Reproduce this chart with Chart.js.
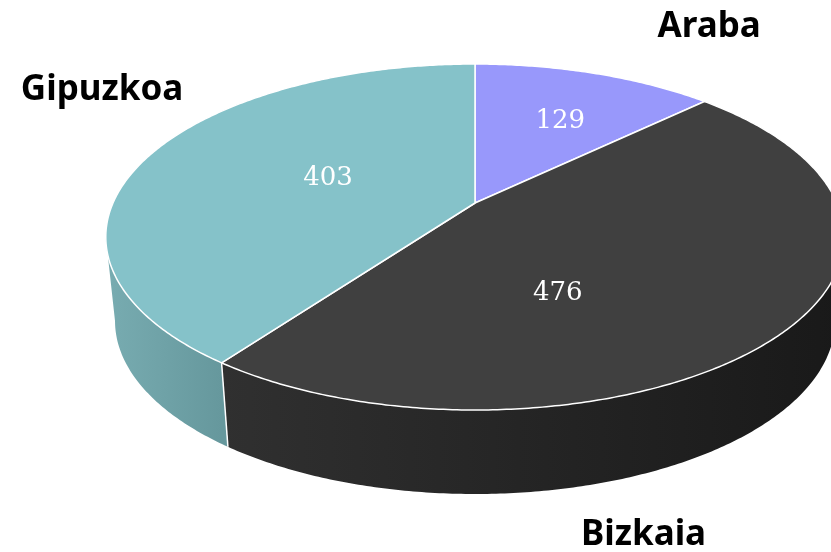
<!DOCTYPE html>
<html>
<head>
<meta charset="utf-8">
<script src="https://cdn.jsdelivr.net/npm/chart.js@4.4.0/dist/chart.umd.min.js"></script>
<style>
  html, body { margin: 0; padding: 0; background: #fff; }
  #wrap { width: 831px; height: 552px; }
</style>
</head>
<body>
<div id="wrap"><canvas id="pie" width="831" height="552"></canvas></div>
<script>
// data
const categories = ['Araba', 'Bizkaia', 'Gipuzkoa'];
const values = [129, 476, 403];
const topColors = ['#9898fb', '#404040', '#85c2c9'];
const sideColors = [['#7b7bd0', '#6b6bbb'], ['#303030', '#191919'], ['#78acb1', '#66989d']];

// 3d look (perspective tilt of the pie plane)
const RX = 362;       // horizontal radius in px
const RY = 166.3;     // vertical scale in px
const PERSP = 0.1966; // near side bigger than far side
const DEPTH = 84;     // wall height
const BOTTOM_SHRINK = 0.975; // bottom rim sits further away
const FRONT_FROM = Math.asin(PERSP);
const FRONT_TO = Math.PI - Math.asin(PERSP);

// label placement: [radius fraction, degrees past slice middle]
const valueSpot = [[0.605, 2.5], [0.531, 26], [0.446, 2.3]];
const nameSpot = [[1.566, 8.4], [1.472, 35.8], [1.425, 15.4]];

function project(el, ang, r, dz) {
  const u = r * Math.cos(ang), v = r * Math.sin(ang);
  const w = 1 - PERSP * v;
  const k = dz ? BOTTOM_SHRINK : 1;
  return [el.x + RX * k * u / w, el.y + RY * v / w + (dz || 0)];
}

function rimPoints(el, a0, a1, r, dz) {
  const pts = [];
  const n = Math.max(2, Math.ceil((a1 - a0) / 0.01));
  for (let k = 0; k <= n; k++) {
    pts.push(project(el, a0 + (a1 - a0) * k / n, r, dz));
  }
  return pts;
}

const pie3d = {
  id: 'pie3d',
  beforeDatasetsDraw(chart) {
    const ctx = chart.ctx;
    const arcs = chart.getDatasetMeta(0).data;

    // walls on the front side
    arcs.forEach((el, i) => {
      const s = Math.max(el.startAngle, FRONT_FROM);
      const e = Math.min(el.endAngle, FRONT_TO);
      if (e <= s) return;
      const top = rimPoints(el, s, e, 1, 0);
      const bottom = rimPoints(el, s, e, 1, DEPTH).reverse();
      const xs = top.map(p => p[0]);
      const g = ctx.createLinearGradient(Math.min(...xs), 0, Math.max(...xs), 0);
      g.addColorStop(0, sideColors[i][0]);
      g.addColorStop(1, sideColors[i][1]);
      ctx.beginPath();
      top.concat(bottom).forEach((p, k) => k ? ctx.lineTo(p[0], p[1]) : ctx.moveTo(p[0], p[1]));
      ctx.closePath();
      ctx.fillStyle = g;
      ctx.fill();
    });

    // seams between walls
    arcs.forEach(el => {
      const a = el.startAngle;
      if (a > FRONT_FROM && a < FRONT_TO) {
        const p = project(el, a, 1, 0), q = project(el, a, 1, DEPTH);
        ctx.beginPath();
        ctx.moveTo(p[0], p[1]);
        ctx.lineTo(q[0], q[1]);
        ctx.strokeStyle = '#ffffff';
        ctx.lineWidth = 1.5;
        ctx.stroke();
      }
    });

    // top faces
    arcs.forEach(el => {
      const c = project(el, 0, 0, 0);
      const pts = rimPoints(el, el.startAngle, el.endAngle, 1, 0);
      ctx.beginPath();
      ctx.moveTo(c[0], c[1]);
      pts.forEach(p => ctx.lineTo(p[0], p[1]));
      ctx.closePath();
      ctx.fillStyle = el.options.backgroundColor;
      ctx.fill();
      ctx.lineJoin = 'round';
      ctx.strokeStyle = el.options.borderColor;
      ctx.lineWidth = el.options.borderWidth;
      ctx.stroke();
    });
    return false;
  },
  afterDraw(chart) {
    const ctx = chart.ctx;
    const arcs = chart.getDatasetMeta(0).data;
    ctx.save();
    ctx.textAlign = 'center';
    ctx.textBaseline = 'middle';
    arcs.forEach((el, i) => {
      const mid = (el.startAngle + el.endAngle) / 2;
      const v = project(el, mid + valueSpot[i][1] * Math.PI / 180, valueSpot[i][0], 0);
      ctx.font = '26px "DejaVu Serif"';
      ctx.fillStyle = '#ffffff';
      ctx.fillText(String(values[i]), v[0], v[1]);
      const n = project(el, mid + nameSpot[i][1] * Math.PI / 180, nameSpot[i][0], 0);
      ctx.font = 'bold 35px "Noto Sans"';
      ctx.fillStyle = '#000000';
      ctx.fillText(categories[i], n[0], n[1]);
    });
    ctx.restore();
  }
};

new Chart(document.getElementById('pie'), {
  type: 'pie',
  data: {
    labels: categories,
    datasets: [{
      data: values,
      backgroundColor: topColors,
      borderColor: '#ffffff',
      borderWidth: 1.5,
      hoverOffset: 0
    }]
  },
  options: {
    responsive: false,
    animation: false,
    layout: { padding: { left: 119, bottom: 146 } },
    plugins: {
      legend: { display: false },
      tooltip: { enabled: false }
    }
  },
  plugins: [pie3d]
});
</script>
</body>
</html>
